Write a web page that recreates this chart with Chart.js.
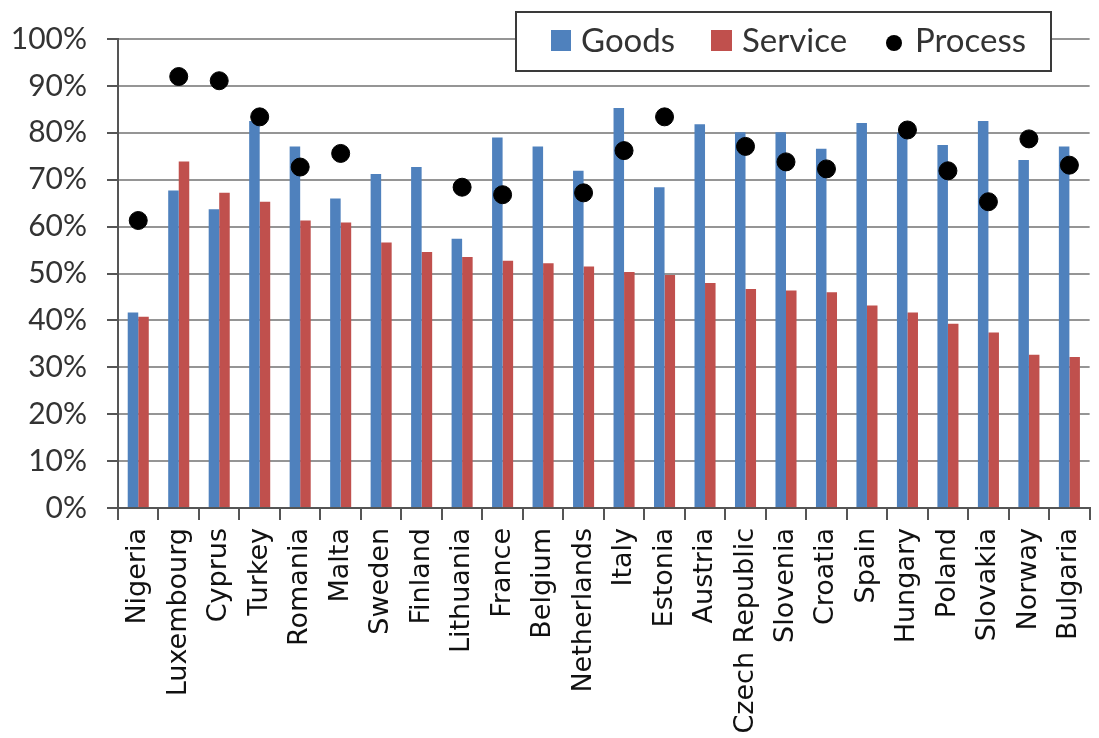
<!DOCTYPE html>
<html>
<head>
<meta charset="utf-8">
<script src="https://cdn.jsdelivr.net/npm/chart.js@4/dist/chart.umd.min.js"></script>
<style>
  html, body { margin: 0; padding: 0; background: #fff; overflow: hidden; }
  #wrap { width: 1110px; height: 738px; }
</style>
</head>
<body>
<div id="wrap"><canvas id="chart" width="1110" height="738"></canvas></div>
<script>
const countries = ['Nigeria', 'Luxembourg', 'Cyprus', 'Turkey', 'Romania', 'Malta', 'Sweden', 'Finland',
    'Lithuania', 'France', 'Belgium', 'Netherlands', 'Italy', 'Estonia', 'Austria', 'Czech Republic',
    'Slovenia', 'Croatia', 'Spain', 'Hungary', 'Poland', 'Slovakia', 'Norway', 'Bulgaria'];

const goods = [41.7, 67.7, 63.7, 82.5, 77.1, 66.0, 71.2, 72.7, 57.4, 79.0, 77.1, 71.9,
    85.3, 68.4, 81.8, 80.1, 80.1, 76.6, 82.1, 80.0, 77.4, 82.5, 74.2, 77.1];

const service = [40.8, 73.9, 67.2, 65.3, 61.3, 60.9, 56.6, 54.6, 53.5, 52.7, 52.2, 51.5,
    50.3, 49.7, 48.0, 46.7, 46.4, 46.0, 43.2, 41.7, 39.3, 37.4, 32.7, 32.2];

const process = [61.3, 92.0, 91.1, 83.4, 72.7, 75.6, null, null, 68.4, 66.8, null, 67.2,
    76.2, 83.4, null, 77.1, 73.8, 72.3, null, 80.6, 71.9, 65.3, 78.7, 73.1];

const yTicks = [0, 10, 20, 30, 40, 50, 60, 70, 80, 90, 100];

// legend box drawn over the top gridline, like the Excel original
const boxLegend = {
    id: 'boxLegend',
    afterDraw(chart) {
        const ctx = chart.ctx;
        const ds = chart.data.datasets;
        ctx.save();
        ctx.fillStyle = '#fff';
        ctx.fillRect(516, 12, 535, 59);
        ctx.strokeStyle = '#3a3a3a';
        ctx.lineWidth = 2;
        ctx.strokeRect(516, 12, 535, 59);

        ctx.font = '33px Lato';
        ctx.textBaseline = 'alphabetic';

        const goodsDs = ds.find(d => d.label === 'Goods');
        const serviceDs = ds.find(d => d.label === 'Service');
        const processDs = ds.find(d => d.label === 'Process');

        ctx.fillStyle = goodsDs.backgroundColor;
        ctx.fillRect(551, 30, 20, 21);
        ctx.fillStyle = '#333';
        ctx.fillText(goodsDs.label, 581, 52);

        ctx.fillStyle = serviceDs.backgroundColor;
        ctx.fillRect(711, 30, 21, 21);
        ctx.fillStyle = '#333';
        ctx.fillText(serviceDs.label, 742, 52);

        ctx.fillStyle = processDs.pointBackgroundColor;
        ctx.beginPath();
        ctx.arc(894, 43, 8, 0, Math.PI * 2);
        ctx.fill();
        ctx.fillStyle = '#333';
        ctx.fillText(processDs.label, 915, 52);
        ctx.restore();
    }
};

const data = {
    labels: countries,
    datasets: [
        {
            type: 'line',
            label: 'Process',
            data: process,
            showLine: false,
            pointRadius: 9,
            pointHoverRadius: 9,
            pointBackgroundColor: '#000',
            pointBorderColor: '#000',
            order: 0
        },
        {
            label: 'Goods',
            data: goods,
            backgroundColor: '#4F81BD',
            order: 1
        },
        {
            label: 'Service',
            data: service,
            backgroundColor: '#C0504D',
            order: 1
        }
    ]
};

const config = {
    type: 'bar',
    data: data,
    options: {
        responsive: false,
        animation: false,
        layout: {
            padding: { top: 39, left: 10, right: 5, bottom: 0 }
        },
        datasets: {
            bar: { categoryPercentage: 0.52, barPercentage: 1.0 }
        },
        plugins: {
            legend: { display: false },
            tooltip: { enabled: false }
        },
        scales: {
            x: {
                afterFit(axis) { axis.height = 230; },
                grid: {
                    drawOnChartArea: false,
                    drawTicks: true,
                    tickLength: 12,
                    color: '#555',
                    lineWidth: 2
                },
                border: { color: '#555', width: 2 },
                ticks: {
                    maxRotation: 90,
                    minRotation: 90,
                    autoSkip: false,
                    padding: 8,
                    color: '#111',
                    font: { family: 'DejaVu Sans', size: 27 }
                }
            },
            y: {
                min: 0,
                max: 100,
                afterFit(axis) { axis.width = 108; },
                afterBuildTicks(axis) {
                    axis.ticks = yTicks.map(v => ({ value: v }));
                },
                grid: {
                    color: '#959595',
                    lineWidth: 2,
                    tickLength: 11,
                    tickColor: '#555'
                },
                border: { color: '#555', width: 2 },
                ticks: {
                    padding: 20,
                    color: '#333',
                    font: { family: 'Lato', size: 30 },
                    callback: v => v + '%'
                }
            }
        }
    },
    plugins: [boxLegend]
};

new Chart(document.getElementById('chart'), config);
</script>
</body>
</html>
